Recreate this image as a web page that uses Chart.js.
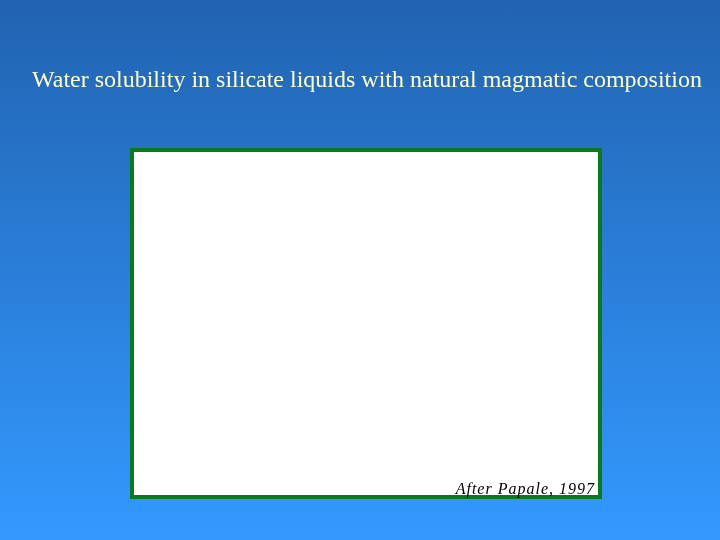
<!DOCTYPE html>
<html>
<head>
<meta charset="utf-8">
<script src="https://cdn.jsdelivr.net/npm/chart.js@4"></script>
<style>
  html, body { margin: 0; padding: 0; }
  body {
    width: 720px;
    height: 540px;
    background: linear-gradient(to bottom, #2163b1, #3399ff);
    overflow: hidden;
  }
  canvas { display: block; }
</style>
</head>
<body>
<canvas id="solubilityChart" width="720" height="540"></canvas>
<script>
// The reference panel is empty: no curves are drawn yet
const pressureMPa = [];
const waterWtPct = [];

const titleText = 'Water solubility in silicate liquids with natural magmatic composition';
const sourceText = 'After Papale, 1997';

const serif = '"Liberation Serif", "DejaVu Serif", serif';

// White panel with green frame behind the plot area, slide title and source note
const panelPlugin = {
    id: 'panel',
    beforeDraw(chart) {
        const { ctx, chartArea: a } = chart;
        ctx.save();
        ctx.fillStyle = '#ffffff';
        ctx.fillRect(a.left, a.top, a.right - a.left, a.bottom - a.top);
        ctx.lineWidth = 4;
        ctx.strokeStyle = '#0b7a1c';
        ctx.strokeRect(a.left + 2, a.top + 2, a.right - a.left - 4, a.bottom - a.top - 4);

        // title, spread out to the slide's width
        ctx.font = '24px ' + serif;
        ctx.fillStyle = '#ffffcc';
        ctx.textBaseline = 'alphabetic';
        ctx.textAlign = 'left';
        const w = ctx.measureText(titleText).width;
        const spacing = Math.max(0, (670 - w) / titleText.length);
        ctx.letterSpacing = spacing.toFixed(2) + 'px';
        ctx.fillText(titleText, 32, 87);
        ctx.restore();
    },
    afterDraw(chart) {
        const { ctx, chartArea: a } = chart;
        ctx.save();
        ctx.fillStyle = '#000000';
        ctx.font = 'italic 16px ' + serif;
        ctx.letterSpacing = '1px';
        ctx.textAlign = 'right';
        ctx.textBaseline = 'alphabetic';
        ctx.fillText(sourceText, a.right - 7, a.bottom - 5);
        ctx.restore();
    }
};

new Chart(document.getElementById('solubilityChart'), {
    type: 'scatter',
    data: {
        datasets: [{
            label: 'H2O solubility',
            data: pressureMPa.map((p, i) => ({ x: p, y: waterWtPct[i] })),
            borderColor: '#000000',
            backgroundColor: '#000000'
        }]
    },
    options: {
        responsive: false,
        animation: false,
        devicePixelRatio: 1,
        layout: {
            padding: { left: 130, right: 118, top: 148, bottom: 41 }
        },
        scales: {
            x: { display: false, min: 0, max: 1 },
            y: { display: false, min: 0, max: 1 }
        },
        plugins: {
            legend: { display: false },
            tooltip: { enabled: false },
            title: { display: false }
        }
    },
    plugins: [panelPlugin]
});
</script>
</body>
</html>
